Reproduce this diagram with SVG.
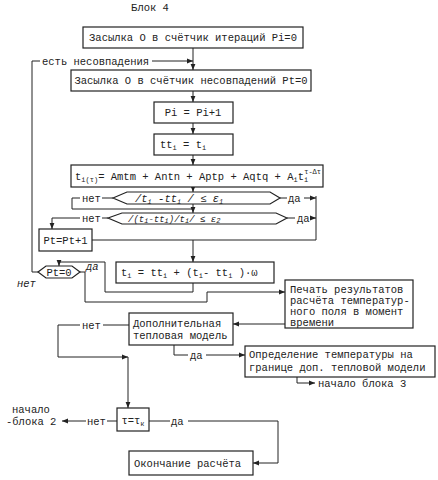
<svg xmlns="http://www.w3.org/2000/svg" width="438" height="480" viewBox="0 0 438 480">
<style>
text{font-family:"Liberation Mono","DejaVu Sans Mono",monospace;font-size:10.5px;fill:#222}
.b{fill:#fff;stroke:#222;stroke-width:1.2}
.c{fill:none;stroke:#222;stroke-width:1}
.a{marker-end:url(#ar)}
.s{font-size:7px}
.i{font-style:italic}
.m{text-anchor:middle}
</style>
<defs>
<marker id="ar" viewBox="0 0 10 10" refX="10" refY="5" markerWidth="6" markerHeight="6" orient="auto" markerUnits="userSpaceOnUse">
<path d="M0,1 L10,5 L0,9 z" fill="#222"/>
</marker>
</defs>
<rect width="438" height="480" fill="#fff"/>
<text x="150" y="11" class="m">Блок 4</text>

<g id="connectors">
<path class="c a" d="M193,48 V70"/>
<path class="c" d="M38,272 H32 V61 H40"/>
<path class="c a" d="M152,61 H193"/>
<path class="c a" d="M193,91 V102"/>
<path class="c a" d="M193,123 V134"/>
<path class="c a" d="M193,155 V165"/>
<path class="c a" d="M193,187 V192"/>
<path class="c a" d="M193,204 V213"/>
<path class="c" d="M113,198 H102"/>
<path class="c" d="M80,198 H72 V209 H193"/>
<path class="c" d="M280,198 H287"/>
<path class="c a" d="M304,198 H316"/>
<path class="c" d="M108,218 H102"/>
<path class="c a" d="M80,218 H52 V229"/>
<path class="c" d="M287,218 H295"/>
<path class="c a" d="M312,218 H316"/>
<path class="c" d="M316,196 V240 H92"/>
<path class="c a" d="M193,240 V262"/>
<path class="c a" d="M193,283 V292 H105 V262 H59 V266"/>
<path class="c a" d="M80,272 H85 V302 H207 V292 H285"/>
<path class="c a" d="M285,324 H233"/>
<path class="c" d="M129,325 H103"/>
<path class="c a" d="M80,325 H58 V357 H128"/>
<path class="c a" d="M128,357 V408"/>
<path class="c" d="M174,345 V355 H188"/>
<path class="c a" d="M206,355 H245"/>
<path class="c a" d="M297,377 V383 H315"/>
<path class="c" d="M117,421 H107"/>
<path class="c a" d="M86,421 H62"/>
<path class="c" d="M149,421 H170"/>
<path class="c a" d="M188,421 H278 V463 H253"/>
</g>

<g id="labels">
<text x="42" y="65">есть несовпадения</text>
<text x="82" y="202">нет</text>
<text x="288" y="202">да</text>
<text x="82" y="222">нет</text>
<text x="297" y="222">да</text>
<text x="86" y="270" class="i">да</text>
<text x="17" y="287" class="i">нет</text>
<text x="82" y="329">нет</text>
<text x="190" y="359">да</text>
<text x="318" y="387">начало блока 3</text>
<text x="87" y="425">нет</text>
<text x="12" y="413">начало</text>
<text x="6" y="425">-блока 2</text>
<text x="171" y="425">да</text>
</g>

<g id="n1"><rect class="b" x="83" y="27" width="220" height="21"/>
<text x="193" y="41" class="m">Засылка О в счётчик итераций Pi=0</text></g>

<g id="n2"><rect class="b" x="71" y="70" width="240" height="21"/>
<text x="191" y="84" class="m">Засылка О в счётчик несовпадений Pt=0</text></g>

<g id="n3"><rect class="b" x="154" y="102" width="79" height="21"/>
<text x="193" y="116" class="m">Pi = Pi+1</text></g>

<g id="n4"><rect class="b" x="154" y="134" width="79" height="21"/>
<text x="160" y="148">tt<tspan class="s" dy="2">i</tspan><tspan dy="-2"> = t</tspan><tspan class="s" dy="2">i</tspan></text></g>

<g id="n5"><rect class="b" x="71" y="165" width="252" height="22"/>
<text x="75" y="180">t<tspan class="s" dy="2">i(τ)</tspan><tspan dy="-2">= Amtm + Antn + Aptp + Aqtq + A</tspan><tspan class="s" dy="2">i</tspan><tspan dy="-2">t</tspan><tspan class="s" dy="2">i</tspan><tspan class="s" dx="-4" dy="-8">τ-Δτ</tspan></text></g>

<g id="d1"><path class="b" d="M113,198 L127,192 H270 L280,198 L270,204 H127 Z"/>
<text x="135" y="202" class="i">/t<tspan class="s" dy="2">i</tspan><tspan dy="-2"> -tt</tspan><tspan class="s" dy="2">i</tspan><tspan dy="-2"> / ≤ ε</tspan><tspan class="s" dy="2">1</tspan></text></g>

<g id="d2"><path class="b" d="M108,218 L122,213 H276 L287,218 L276,224 H122 Z"/>
<text x="128" y="221.5" class="i" style="font-size:9px">/(t<tspan class="s" dy="1.5">i</tspan><tspan dy="-1.5">-tt</tspan><tspan class="s" dy="1.5">i</tspan><tspan dy="-1.5">)/t</tspan><tspan class="s" dy="1.5">i</tspan><tspan dy="-1.5">/ ≤ ε</tspan><tspan class="s" dy="1.5">2</tspan></text></g>

<g id="n6"><rect class="b" x="39" y="229" width="53" height="22"/>
<text x="65.5" y="244" class="m">Pt=Pt+1</text></g>

<g id="d3"><path class="b" d="M38,272 L46,266 H72 L80,272 L72,278 H46 Z"/>
<text x="59" y="276" class="m">Pt=0</text></g>

<g id="n7"><rect class="b" x="116" y="262" width="158" height="21"/>
<text x="121" y="276">t<tspan class="s" dy="2">i</tspan><tspan dy="-2"> = tt</tspan><tspan class="s" dy="2">i</tspan><tspan dy="-2"> + (t</tspan><tspan class="s" dy="2">i</tspan><tspan dy="-2">- tt</tspan><tspan class="s" dy="2">i</tspan><tspan dy="-2"> )·ω</tspan></text></g>

<g id="n8"><rect class="b" x="285" y="280" width="128" height="48"/>
<text x="290" y="293">Печать результатов</text>
<text x="290" y="304">расчёта температур-</text>
<text x="290" y="315">ного поля в момент</text>
<text x="290" y="326">времени</text></g>

<g id="n9"><rect class="b" x="129" y="313" width="104" height="32"/>
<text x="133" y="327">Дополнительная</text>
<text x="133" y="339">тепловая модель</text></g>

<g id="n10"><rect class="b" x="245" y="346" width="190" height="31"/>
<text x="249" y="358">Определение температуры на</text>
<text x="249" y="371">границе доп. тепловой модели</text></g>

<g id="d4"><rect class="b" x="117" y="408" width="32" height="23"/>
<text x="133" y="424" class="m">τ=τ<tspan class="s" dy="2">к</tspan></text></g>

<g id="n11"><rect class="b" x="129" y="451" width="124" height="24"/>
<text x="134" y="467">Окончание расчёта</text></g>
</svg>
